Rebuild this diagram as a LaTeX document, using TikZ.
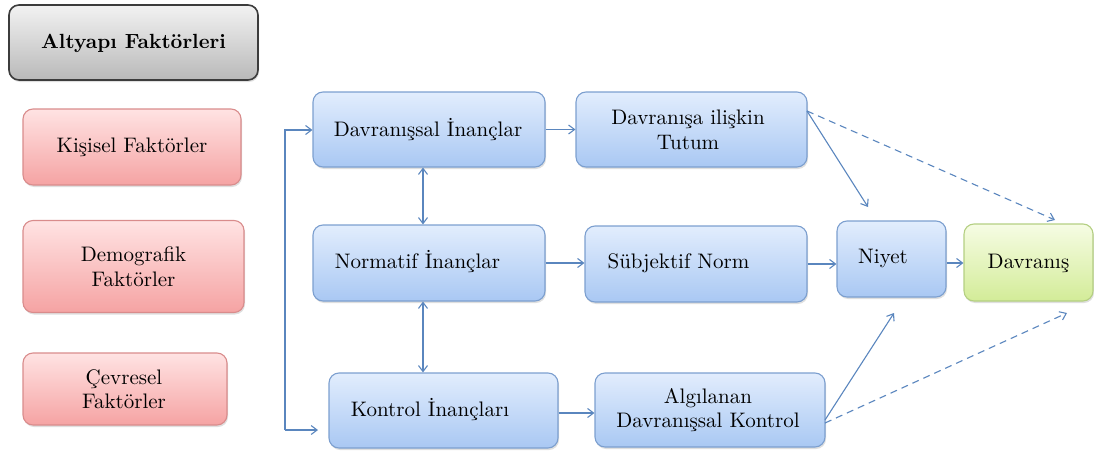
\documentclass[tikz,border=0pt]{standalone}
\usepackage{fontspec}
\setmainfont{lmroman10-regular.otf}[BoldFont=lmroman10-bold.otf, ItalicFont=lmroman10-italic.otf, BoldItalicFont=lmroman10-bolditalic.otf]
\usetikzlibrary{arrows.meta,shadows}
\definecolor{bluetop}{HTML}{E2EDFD}
\definecolor{bluebot}{HTML}{A9C8F3}
\definecolor{blueline}{HTML}{7C9FCF}
\definecolor{pinktop}{HTML}{FFE3E3}
\definecolor{pinkbot}{HTML}{F5A3A3}
\definecolor{pinkline}{HTML}{D98C8C}
\definecolor{graytop}{HTML}{F2F2F2}
\definecolor{graybot}{HTML}{B9B9B9}
\definecolor{grayline}{HTML}{3C3C3C}
\definecolor{greentop}{HTML}{F6FCE4}
\definecolor{greenbot}{HTML}{D3EC98}
\definecolor{greenline}{HTML}{B4CF82}
\definecolor{arrowcol}{HTML}{5A86BE}
\tikzset{
  box/.style={rounded corners=10pt, line width=1.1pt, inner sep=0pt,
    drop shadow={opacity=0.25, shadow xshift=1pt, shadow yshift=-2pt}},
  bluebox/.style={box, draw=blueline, top color=bluetop, bottom color=bluebot},
  pinkbox/.style={box, draw=pinkline, top color=pinktop, bottom color=pinkbot},
  graybox/.style={box, draw=grayline, line width=1.6pt, top color=graytop, bottom color=graybot},
  greenbox/.style={box, draw=greenline, top color=greentop, bottom color=greenbot},
  txt/.style={align=center, inner sep=0pt, font=\fontsize{21}{24.5}\selectfont},
  conn/.style={draw=arrowcol, line width=1.1pt, -{Straight Barb[length=6pt,width=9pt]}},
  biconn/.style={draw=arrowcol, line width=1.1pt, {Straight Barb[length=6pt,width=9pt]}-{Straight Barb[length=6pt,width=9pt]}},
  dconn/.style={conn, dash pattern=on 7pt off 5pt},
}
\begin{document}
\begin{tikzpicture}[x=1pt, y=-1pt]
\useasboundingbox (0,0) rectangle (1094,452);

% left column: background factors
\node[graybox, minimum width=249pt, minimum height=75pt] (alt) at (133.5,42.5) {};
\node[txt, font=\fontsize{20.5}{24}\selectfont\bfseries] (altT) at (133.5,43) {Altyapı Faktörleri};
\node[pinkbox, minimum width=218pt, minimum height=76pt] (kis) at (132,147) {};
\node[txt] (kisT) at (132,147) {Kişisel Faktörler};
\node[pinkbox, minimum width=221pt, minimum height=92pt] (dem) at (133.5,266.5) {};
\node[txt] (demT) at (133.5,266.5) {Demografik\\Faktörler};
\node[pinkbox, minimum width=204pt, minimum height=72pt] (cev) at (125,389) {};
\node[txt] (cevT) at (124,389) {Çevresel\\Faktörler};

% beliefs
\node[bluebox, minimum width=232pt, minimum height=75pt] (dinc) at (429,129.5) {};
\node[txt] (dincT) at (428,130) {Davranışsal İnançlar};
\node[bluebox, minimum width=232pt, minimum height=76pt] (ninc) at (429,263) {};
\node[txt] (nincT) at (417.5,262) {Normatif İnançlar};
\node[bluebox, minimum width=229pt, minimum height=75pt] (kinc) at (443.5,410.5) {};
\node[txt] (kincT) at (430,410) {Kontrol İnançları};

% attitudes, norm, control
\node[bluebox, minimum width=231pt, minimum height=75pt] (tut) at (691.5,129.5) {};
\node[txt] (tutT) at (688,130) {Davranışa ilişkin\\Tutum};
\node[bluebox, minimum width=222pt, minimum height=76pt] (sub) at (696,264) {};
\node[txt] (subT) at (678.5,263) {Sübjektif Norm};
\node[bluebox, minimum width=230pt, minimum height=74pt] (alg) at (710,410) {};
\node[txt] (algT) at (708,410) {Algılanan\\Davranışsal Kontrol};

% intention and behaviour
\node[bluebox, minimum width=109pt, minimum height=76pt] (niy) at (891.5,259) {};
\node[txt] (niyT) at (883,258) {Niyet};
\node[greenbox, minimum width=129pt, minimum height=77pt] (dav) at (1028.5,262.5) {};
\node[txt] (davT) at (1028.5,263) {Davranış};

% free ends of connectors
\coordinate (brTop) at (285,130);
\coordinate (brBot) at (285,430);
\coordinate (kincIn) at (318,430);
\coordinate (tutOut) at (807,111);
\coordinate (niyTop) at (868,207);
\coordinate (davTop) at (1055,220);
\coordinate (algOut) at (825,420);
\coordinate (algOutD) at (825,423);
\coordinate (niyBot) at (894,313);
\coordinate (davBot) at (1067,313);

% connectors
\draw[conn] (brBot) -- (brTop) -- (dinc.west |- brTop);
\draw[conn] (brTop |- brBot) -- (kincIn);
\draw[biconn] (dinc.south -| 423,0) -- (ninc.north -| 423,0);
\draw[biconn] (ninc.south -| 423,0) -- (kinc.north -| 423,0);
\draw[conn] (dinc.east) -- (tut.west |- dinc.east);
\draw[conn] (ninc.east) -- (sub.west |- ninc.east);
\draw[conn] (kinc.east |- 0,413) -- (alg.west |- 0,413);
\draw[conn] (sub.east) -- (niy.west |- sub.east);
\draw[conn] (niy.east |- 0,263) -- (dav.west |- 0,263);
\draw[conn] (tutOut) -- (niyTop);
\draw[dconn] (tutOut) -- (davTop);
\draw[conn] (algOut) -- (niyBot);
\draw[dconn] (algOutD) -- (davBot);
\end{tikzpicture}
\end{document}
